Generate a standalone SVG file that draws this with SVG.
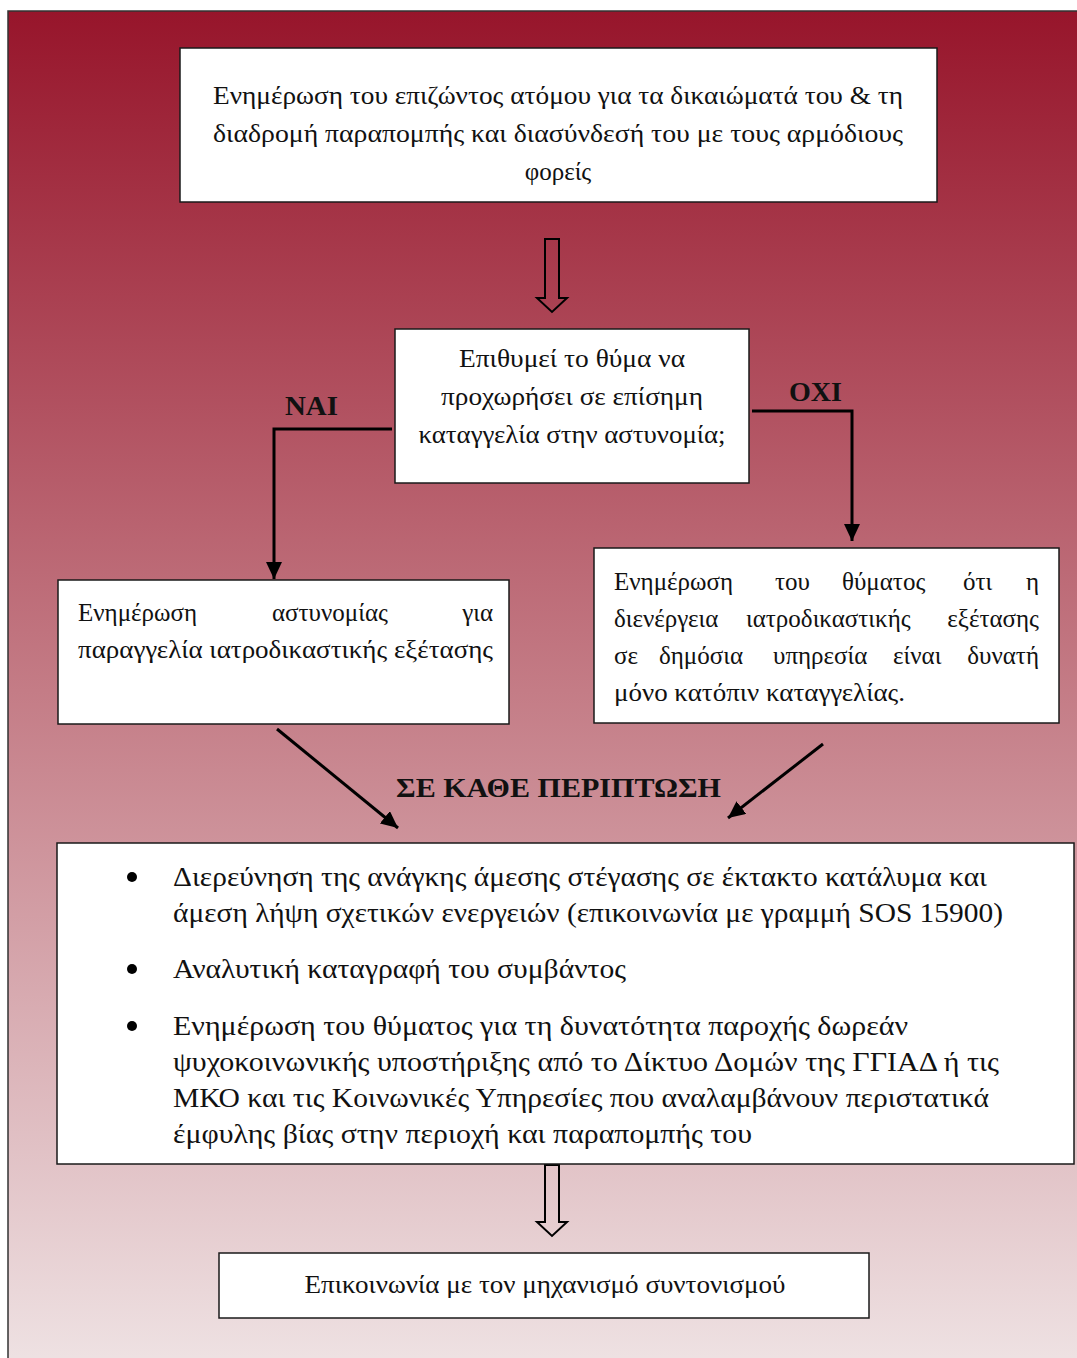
<svg xmlns="http://www.w3.org/2000/svg" width="1077" height="1358" viewBox="0 0 1077 1358">
<defs>
<linearGradient id="bgGrad" x1="0" y1="0" x2="0" y2="1">
<stop offset="0" stop-color="#97152b"/>
<stop offset="0.5" stop-color="#c47c86"/>
<stop offset="1" stop-color="#efe3e4"/>
</linearGradient>
<marker id="ah" markerUnits="userSpaceOnUse" markerWidth="18" markerHeight="16" refX="17" refY="8" orient="auto">
<path d="M0,0 L17,8 L0,16 z" fill="#000"/>
</marker>
<style>
.box{fill:#fff;stroke:#1a1a1a;stroke-width:1.5}
.t{font-family:"Liberation Serif","DejaVu Serif",serif;font-size:25px;fill:#111}
.big{font-size:27px}
.lbl{font-family:"Liberation Serif","DejaVu Serif",serif;font-weight:bold;font-size:27px;fill:#111}
.conn{stroke:#000;stroke-width:3;fill:none}
.hollow{fill:none;stroke:#000;stroke-width:2}
</style>
</defs>
<rect x="8" y="11" width="1080" height="1360" fill="url(#bgGrad)" stroke="#333" stroke-width="1.5"/>

<g id="connectors">
<polygon class="hollow" points="545,239 559,239 559,298 567,298 552,312 537,298 545,298"/>
<path class="conn" d="M392,429 H274 V579" marker-end="url(#ah)"/>
<path class="conn" d="M752,411 H852 V541" marker-end="url(#ah)"/>
<path class="conn" d="M277,729 L398,828" marker-end="url(#ah)"/>
<path class="conn" d="M823,744 L728,818" marker-end="url(#ah)"/>
<polygon class="hollow" points="545,1165 559,1165 559,1222 567,1222 552,1236 537,1222 545,1222"/>
<text class="lbl" x="285" y="415" textLength="53" lengthAdjust="spacingAndGlyphs">ΝΑΙ</text>
<text class="lbl" x="789" y="401" textLength="53" lengthAdjust="spacingAndGlyphs">ΟΧΙ</text>
<text class="lbl" x="396" y="797" textLength="325" lengthAdjust="spacingAndGlyphs">ΣΕ ΚΑΘΕ ΠΕΡΙΠΤΩΣΗ</text>
</g>

<g id="n1">
<rect class="box" x="180" y="48" width="757" height="154"/>
<text class="t" x="213" y="104" textLength="690" lengthAdjust="spacingAndGlyphs">Ενημέρωση του επιζώντος ατόμου για τα δικαιώματά του &amp; τη</text>
<text class="t" x="213" y="142" textLength="690" lengthAdjust="spacingAndGlyphs">διαδρομή παραπομπής και διασύνδεσή του με τους αρμόδιους</text>
<text class="t" x="558" y="180" text-anchor="middle">φορείς</text>
</g>

<g id="n2">
<rect class="box" x="395" y="329" width="354" height="154"/>
<text class="t" x="572" y="367" text-anchor="middle" textLength="226" lengthAdjust="spacingAndGlyphs">Επιθυμεί το θύμα να</text>
<text class="t" x="572" y="405" text-anchor="middle" textLength="262" lengthAdjust="spacingAndGlyphs">προχωρήσει σε επίσημη</text>
<text class="t" x="572" y="443" text-anchor="middle" textLength="307" lengthAdjust="spacingAndGlyphs">καταγγελία στην αστυνομία;</text>
</g>

<g id="n3">
<rect class="box" x="58" y="580" width="451" height="144"/>
<text class="t" y="621"><tspan x="78">Ενημέρωση</tspan><tspan x="272">αστυνομίας</tspan><tspan x="493" text-anchor="end">για</tspan></text>
<text class="t" x="78" y="658" textLength="415" lengthAdjust="spacingAndGlyphs">παραγγελία ιατροδικαστικής εξέτασης</text>
</g>

<g id="n4">
<rect class="box" x="594" y="548" width="465" height="175"/>
<text class="t" y="590"><tspan x="614">Ενημέρωση</tspan><tspan x="775">του</tspan><tspan x="842">θύματος</tspan><tspan x="963">ότι</tspan><tspan x="1039" text-anchor="end">η</tspan></text>
<text class="t" y="627"><tspan x="614">διενέργεια</tspan><tspan x="746">ιατροδικαστικής</tspan><tspan x="1039" text-anchor="end">εξέτασης</tspan></text>
<text class="t" y="664"><tspan x="614">σε</tspan><tspan x="659">δημόσια</tspan><tspan x="773">υπηρεσία</tspan><tspan x="893">είναι</tspan><tspan x="1039" text-anchor="end">δυνατή</tspan></text>
<text class="t" x="614" y="701" textLength="291" lengthAdjust="spacingAndGlyphs">μόνο κατόπιν καταγγελίας.</text>
</g>

<g id="n5">
<rect class="box" x="57" y="843" width="1017" height="321"/>
<circle cx="132" cy="877" r="5"/>
<circle cx="132" cy="969" r="5"/>
<circle cx="132" cy="1026" r="5"/>
<text class="t big" x="173" y="886" textLength="814" lengthAdjust="spacingAndGlyphs">Διερεύνηση της ανάγκης άμεσης στέγασης σε έκτακτο κατάλυμα και</text>
<text class="t big" x="173" y="922" textLength="830" lengthAdjust="spacingAndGlyphs">άμεση λήψη σχετικών ενεργειών (επικοινωνία με γραμμή SOS 15900)</text>
<text class="t big" x="173" y="978" textLength="453" lengthAdjust="spacingAndGlyphs">Αναλυτική καταγραφή του συμβάντος</text>
<text class="t big" x="173" y="1035" textLength="735" lengthAdjust="spacingAndGlyphs">Ενημέρωση του θύματος για τη δυνατότητα παροχής δωρεάν</text>
<text class="t big" x="173" y="1071" textLength="826" lengthAdjust="spacingAndGlyphs">ψυχοκοινωνικής υποστήριξης από το Δίκτυο Δομών της ΓΓΙΑΔ ή τις</text>
<text class="t big" x="173" y="1107" textLength="816" lengthAdjust="spacingAndGlyphs">ΜΚΟ και τις Κοινωνικές Υπηρεσίες που αναλαμβάνουν περιστατικά</text>
<text class="t big" x="173" y="1143" textLength="579" lengthAdjust="spacingAndGlyphs">έμφυλης βίας στην περιοχή και παραπομπής του</text>
</g>

<g id="n6">
<rect class="box" x="219" y="1253" width="650" height="65"/>
<text class="t" x="545" y="1293" text-anchor="middle" textLength="481" lengthAdjust="spacingAndGlyphs">Επικοινωνία με τον μηχανισμό συντονισμού</text>
</g>
</svg>
